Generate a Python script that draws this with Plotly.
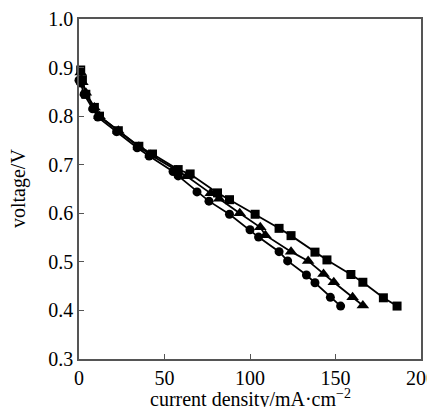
import plotly.graph_objects as go

# Series: squares (top), triangles (middle), circles (bottom)
sq_x = [1, 2, 4, 9, 12, 23, 35, 43, 58, 65, 81, 88, 103, 117, 124, 138, 145, 159, 166, 178, 186]
sq_y = [0.895, 0.875, 0.845, 0.818, 0.800, 0.770, 0.738, 0.722, 0.690, 0.681, 0.642, 0.628,
        0.598, 0.569, 0.554, 0.520, 0.504, 0.474, 0.458, 0.426, 0.409]

tri_x = [1, 2, 4, 9, 12, 23, 35, 42, 57, 63, 77, 82, 94, 106, 109, 124, 134, 143, 149, 160, 166]
tri_y = [0.890, 0.870, 0.848, 0.818, 0.800, 0.770, 0.737, 0.720, 0.688, 0.676, 0.641, 0.630,
         0.600, 0.571, 0.555, 0.521, 0.502, 0.475, 0.458, 0.427, 0.410]

cir_x = [0, 1, 3, 8, 11, 22, 34, 41, 55, 58, 69, 76, 88, 100, 105, 117, 122, 133, 138, 147, 153]
cir_y = [0.874, 0.868, 0.845, 0.815, 0.798, 0.768, 0.735, 0.718, 0.686, 0.677, 0.644, 0.625,
         0.598, 0.566, 0.551, 0.521, 0.502, 0.473, 0.457, 0.427, 0.409]

x_ticks = [0, 50, 100, 150, 200]
y_ticks = [0.3, 0.4, 0.5, 0.6, 0.7, 0.8, 0.9, 1.0]

x_title = "current density/mA·cm<sup>−2</sup>"
y_title = "voltage/V"

FONT = "Liberation Serif, Times New Roman, serif"

fig = go.Figure()
for xs, ys, sym, sz in [(sq_x, sq_y, "square", 9), (tri_x, tri_y, "triangle-up", 11), (cir_x, cir_y, "circle", 9)]:
    fig.add_trace(go.Scatter(
        x=xs, y=ys, mode="lines+markers",
        line=dict(color="black", width=1.8),
        marker=dict(symbol=sym, size=sz, color="black"),
        cliponaxis=False, showlegend=False,
    ))

axis_common = dict(
    showline=True, linecolor="#555555", linewidth=1.5, mirror=True,
    ticks="inside", ticklen=5, tickcolor="#555555", tickwidth=1,
    showgrid=False, zeroline=False, automargin=False,
    ticklabeloverflow="allow",
    tickfont=dict(family=FONT, size=20, color="black"),
)

fig.update_xaxes(range=[0, 200], tickvals=x_ticks, **axis_common)
fig.update_yaxes(range=[0.3, 1.0], tickvals=y_ticks, tickformat=".1f", **axis_common)

fig.add_annotation(text=x_title, xref="paper", yref="paper", x=0.5, y=0,
                   yshift=-39, xanchor="center", yanchor="middle", showarrow=False,
                   font=dict(family=FONT, size=20, color="black"))
fig.add_annotation(text=y_title, xref="paper", yref="paper", x=0, y=0.5,
                   xshift=-61, xanchor="center", yanchor="middle", textangle=-90, showarrow=False,
                   font=dict(family=FONT, size=20, color="black"))

# The page adds an 8px body margin, so the figure is sized to fit the window
fig.update_layout(
    width=427, height=399,
    margin=dict(l=71, r=14, t=11, b=48, pad=0),
    paper_bgcolor="white", plot_bgcolor="white",
)

fig.write_html("out.html")
